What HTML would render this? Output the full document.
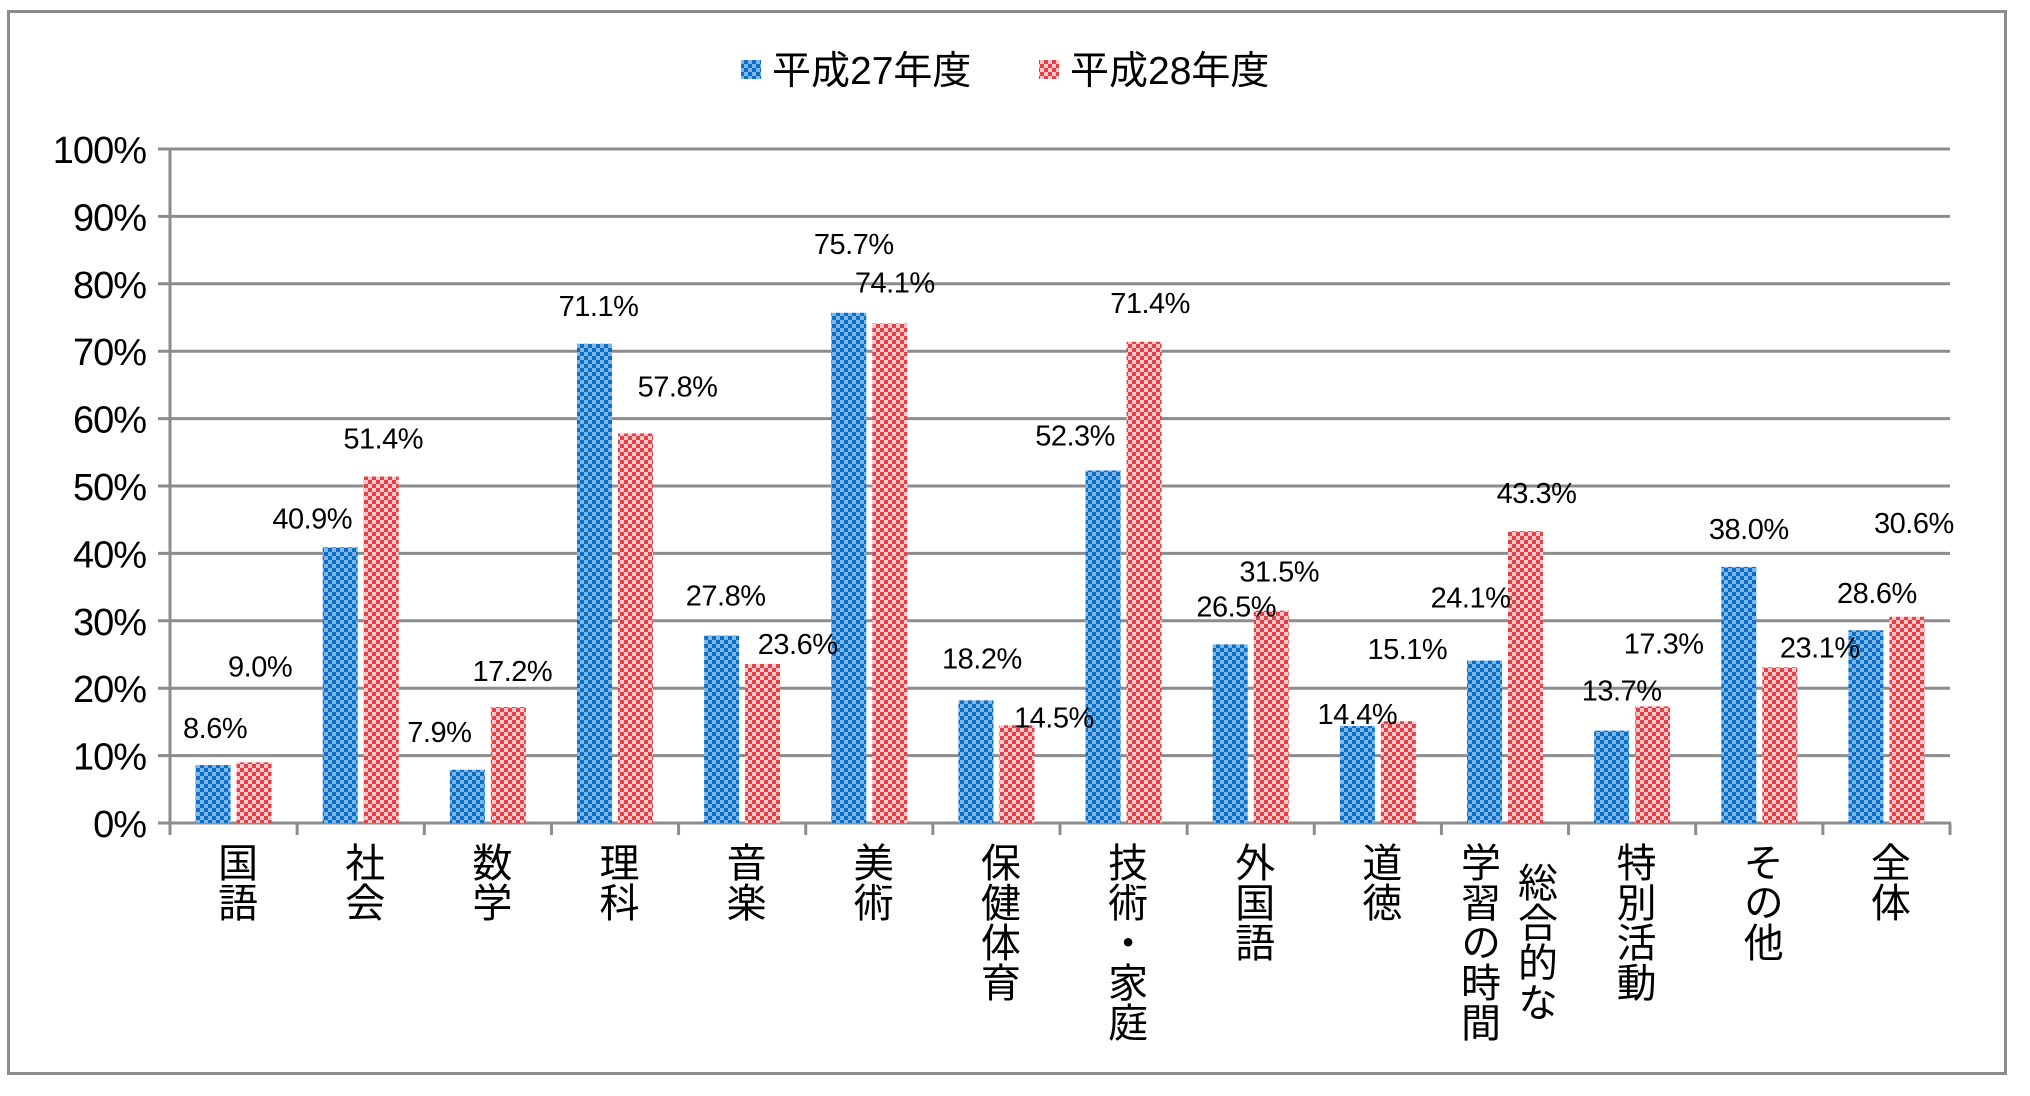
<!DOCTYPE html>
<html><head><meta charset="utf-8">
<style>
html,body{margin:0;padding:0;background:#fff;}
body{width:2030px;height:1096px;overflow:hidden;position:relative;font-family:"Liberation Sans","Noto Sans CJK JP",sans-serif;}
#frame{position:absolute;left:7px;top:10px;width:2000px;height:1065px;border:3px solid #8c8c8c;box-sizing:border-box;}
svg{position:absolute;left:0;top:0;}
.cat{position:absolute;top:842px;writing-mode:vertical-rl;font-size:40px;line-height:57px;text-align:center;color:#000;font-family:"Liberation Sans","Noto Sans CJK JP",sans-serif;white-space:pre;}
</style></head>
<body>
<div id="frame"></div>
<svg id="chart" width="2030" height="1096">
<defs>
<pattern id="pBlue" width="8" height="8" patternUnits="userSpaceOnUse">
<rect width="8" height="8" fill="#0a6fc9"/>
<rect x="0" y="0" width="4" height="4" fill="#7fb6e8"/>
<rect x="4" y="4" width="4" height="4" fill="#7fb6e8"/>
</pattern>
<pattern id="pRed" width="8" height="8" patternUnits="userSpaceOnUse">
<rect width="8" height="8" fill="#f9c9ca"/>
<rect x="0" y="0" width="4" height="4" fill="#e53f47"/>
<rect x="4" y="4" width="4" height="4" fill="#e53f47"/>
</pattern>
</defs>
<g id="legend">
<rect x="741" y="60" width="20" height="19" fill="url(#pBlue)"/>
<text x="772" y="84" font-size="39">平成27年度</text>
<rect x="1039" y="60" width="20" height="19" fill="url(#pRed)"/>
<text x="1070" y="84" font-size="39">平成28年度</text>
</g>
<g id="grid"></g>
<g id="bars"></g>
<g id="labels"></g>
</svg>
<div id="cats"></div>
<script>
const categories=["国語","社会","数学","理科","音楽","美術","保健体育","技術・家庭","外国語","道徳","総合的な\n学習の時間","特別活動","その他","全体"];
const h27=[8.6,40.9,7.9,71.1,27.8,75.7,18.2,52.3,26.5,14.4,24.1,13.7,38.0,28.6];
const h28=[9.0,51.4,17.2,57.8,23.6,74.1,14.5,71.4,31.5,15.1,43.3,17.3,23.1,30.6];
const yTicks=[0,10,20,30,40,50,60,70,80,90,100];
// label placement offsets (style only): extra dx, height above bar top
const dx27=[2,-28,-28,4,4,5,6,-28,6,0,-14,10,10,11];
const up27=[38,30,39,39,41,70,43,36,39,13,64,41,39,38];
const dx28=[6,2,4,42,35,5,37,6,8,9,11,11,40,7];
const up28=[97,39,37,48,21,42,9,40,40,73,39,64,21,95];

const X0=170,X1=1950,Y0=823,Y100=149;
const catW=(X1-X0)/categories.length;
const yS=v=>Y0-(Y0-Y100)*v/100;
const NS="http://www.w3.org/2000/svg";
function mk(tag,attrs,parent){const e=document.createElementNS(NS,tag);for(const k in attrs)e.setAttribute(k,attrs[k]);parent.appendChild(e);return e;}
const grid=document.getElementById('grid');
yTicks.forEach(t=>{
  const y=yS(t);
  if(t>0){const l=mk('line',{x1:X0-12,x2:X1,y1:y,y2:y,stroke:'#8c8c8c','stroke-width':3},grid);
  
  }
  const tx=mk('text',{x:X0-24,y:y+14,'font-size':38,'text-anchor':'end','letter-spacing':'-1'},grid);
  tx.textContent=t+'%';
  
  
});
const ax=mk('line',{x1:X0,x2:X0,y1:Y100,y2:Y0+2,stroke:'#8c8c8c','stroke-width':3},grid);


const xa=mk('line',{x1:X0-12,x2:X1+1,y1:Y0,y2:Y0,stroke:'#8c8c8c','stroke-width':3},grid);


for(let i=0;i<=categories.length;i++){
  const x=X0+i*catW;
  const tk=mk('line',{x1:x,x2:x,y1:Y0,y2:Y0+12,stroke:'#8c8c8c','stroke-width':3},grid);
  
  
}
const bars=document.getElementById('bars'),labels=document.getElementById('labels'),cats=document.getElementById('cats');
const BW=35,GAP=6;
categories.forEach((c,i)=>{
  const s=X0+i*catW;
  const xb=s+(catW-(2*BW+GAP))/2;
  [[h27,'url(#pBlue)',xb,dx27,up27,'h27'],[h28,'url(#pRed)',xb+BW+GAP,dx28,up28,'h28']].forEach(([arr,fill,x,dxa,upa,nm])=>{
    const v=arr[i],y=yS(v);
    const r=mk('rect',{x:x,y:y,width:BW,height:Y0-y,fill:fill},bars);
    
    
    const t=mk('text',{x:x+BW/2+dxa[i],y:y-upa[i]+11,'font-size':29,'text-anchor':'middle','letter-spacing':'-0.5'},labels);
    t.textContent=v.toFixed(1)+'%';
    
    
  });
  const d=document.createElement('div');
  d.className='cat';
  d.textContent=c;
  
  
  cats.appendChild(d);
  d.style.left=(s+catW/2-d.offsetWidth/2)+'px';
});
</script>
</body></html>
